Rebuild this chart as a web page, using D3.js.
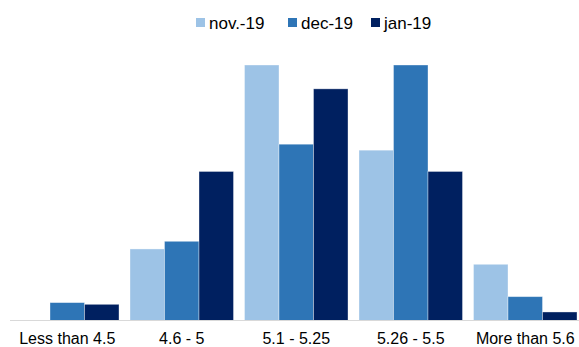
<!DOCTYPE html>
<html><head><meta charset="utf-8">
<script src="https://cdn.jsdelivr.net/npm/d3@7"></script>
<style>html,body{margin:0;padding:0;background:#fff;}svg{display:block;}</style>
</head><body>
<script>
const categories = ["Less than 4.5", "4.6 - 5", "5.1 - 5.25", "5.26 - 5.5", "More than 5.6"];
const seriesNames = ["nov.-19", "dec-19", "jan-19"];
const nov19 = [0, 8.4, 30, 20.0, 6.6];
const dec19 = [2.1, 9.3, 20.7, 30, 2.8];
const jan19 = [1.9, 17.5, 27.2, 17.5, 1.0];
const colors = ["#9DC3E6", "#2E75B6", "#002060"];

const W = 579, H = 347;
const series = [nov19, dec19, jan19];
const svg = d3.select("body").append("svg").attr("width", W).attr("height", H);

const x0 = d3.scaleBand().domain(categories).range([10, 582.5]).paddingInner(0.096).paddingOuter(0.048);
const x1 = d3.scaleBand().domain(seriesNames).range([0, x0.bandwidth()]).padding(0);
const y = d3.scaleLinear().domain([0, 30]).range([320.5, 65]);

const g = svg.append("g");
categories.forEach((c, i) => {
  seriesNames.forEach((s, j) => {
    const v = series[j][i];
    if (v <= 0) return;
    g.append("rect")
      .attr("x", x0(c) + x1(s))
      .attr("y", y(v))
      .attr("width", x1.bandwidth())
      .attr("height", y(0) - y(v))
      .attr("fill", colors[j])
      .attr("stroke", "rgba(255,255,255,0.45)")
      .attr("stroke-width", 0.8);
  });
});

// axis
const axis = d3.axisBottom(x0).tickSize(0).tickPadding(0);
const ax = svg.append("g").attr("transform", `translate(0,${y(0)})`).call(axis);
ax.select(".domain").attr("stroke", "#d9d9d9").attr("stroke-width", 1.2).attr("d", `M10,0H${W}`);
ax.selectAll("text")
  .attr("y", 23).attr("dy", null)
  .attr("font-family", "Liberation Sans, Arial, sans-serif").attr("font-size", "16px").attr("fill", "#000");

// legend
const legX = [196, 288, 371];
const leg = svg.append("g");
seriesNames.forEach((s, j) => {
  leg.append("rect").attr("x", legX[j]).attr("y", 18).attr("width", 9).attr("height", 9).attr("fill", colors[j]);
  leg.append("text").attr("x", legX[j] + 13).attr("y", 28.5)
    .attr("font-family", "Liberation Sans, Arial, sans-serif").attr("font-size", "17px").attr("fill", "#000")
    .text(s);
});
</script>
</body></html>
